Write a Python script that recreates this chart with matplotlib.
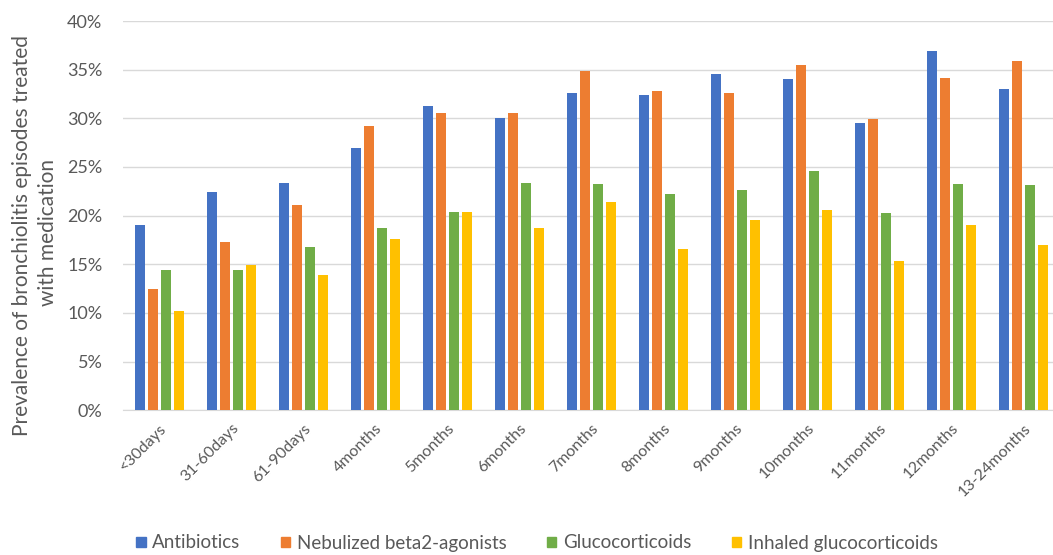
import numpy as np
import matplotlib
matplotlib.use("Agg")
import matplotlib.pyplot as plt
from matplotlib.ticker import PercentFormatter
from matplotlib.patches import Patch

# age groups
categories = ["<30days", "31-60days", "61-90days", "4months", "5months", "6months",
              "7months", "8months", "9months", "10months", "11months", "12months",
              "13-24months"]

# prevalence (%) per medication
antibiotics = [19.0, 22.4, 23.4, 27.0, 31.3, 30.0, 32.6, 32.4, 34.6, 34.0, 29.5, 36.9, 33.0]
nebulized = [12.5, 17.3, 21.1, 29.2, 30.6, 30.5, 34.9, 32.8, 32.6, 35.5, 29.9, 34.2, 35.9]
glucocorticoids = [14.4, 14.4, 16.8, 18.7, 20.4, 23.4, 23.3, 22.2, 22.6, 24.6, 20.3, 23.2, 23.1]
inhaled = [10.2, 14.9, 13.9, 17.6, 20.4, 18.7, 21.4, 16.6, 19.5, 20.6, 15.3, 19.0, 17.0]

series = [
    ("Antibiotics", antibiotics, "#4472C4"),
    ("Nebulized beta2-agonists", nebulized, "#ED7D31"),
    ("Glucocorticoids", glucocorticoids, "#70AD47"),
    ("Inhaled glucocorticoids", inhaled, "#FFC000"),
]

plt.rcParams["font.family"] = ["Lato", "DejaVu Sans"]
text_col = "#595959"

fig = plt.figure(figsize=(10.53, 5.55), dpi=100)
ax = fig.add_axes([0.117, 0.261, 0.889, 0.701])

x = np.arange(len(categories))
step = 0.18
width = 0.14
for i, (name, vals, col) in enumerate(series):
    ax.bar(x + (i - 1.5) * step, vals, width=width, color=col, label=name, zorder=3)

ax.set_xlim(-0.5, len(categories) - 0.5)
ax.set_ylim(0, 40)
ax.set_yticks(np.arange(0, 41, 5))
ax.yaxis.set_major_formatter(PercentFormatter(decimals=0))
ax.grid(axis="y", color="#D9D9D9", linewidth=1, zorder=0)
for s in ["top", "right", "left"]:
    ax.spines[s].set_visible(False)
ax.spines["bottom"].set_color("#D9D9D9")
ax.tick_params(axis="both", length=0, colors=text_col)
ax.tick_params(axis="y", pad=15, labelsize=13)
ax.tick_params(axis="x", pad=8, labelsize=11.5)

ax.set_xticks(x)
ax.set_xticklabels(categories, rotation=45, ha="right", rotation_mode="anchor")

# y label, two lines placed as in the original
fig.text(22 / 1053, 1 - 235 / 555, "Prevalence of bronchiolitis episodes treated",
         rotation=90, ha="center", va="center", fontsize=15, color=text_col)
fig.text(48 / 1053, 1 - 233 / 555, "with medication",
         rotation=90, ha="center", va="center", fontsize=15, color=text_col)

handles = [Patch(color=c, label=n) for n, _, c in series]
fig.legend(handles=handles, loc="center", bbox_to_anchor=(0.510, 1 - 543 / 555),
           ncol=4, frameon=False, fontsize=13.5, handlelength=0.5, handleheight=0.5,
           handletextpad=0.35, columnspacing=2.15, labelcolor=text_col)

fig.savefig("out.png", dpi=100)
